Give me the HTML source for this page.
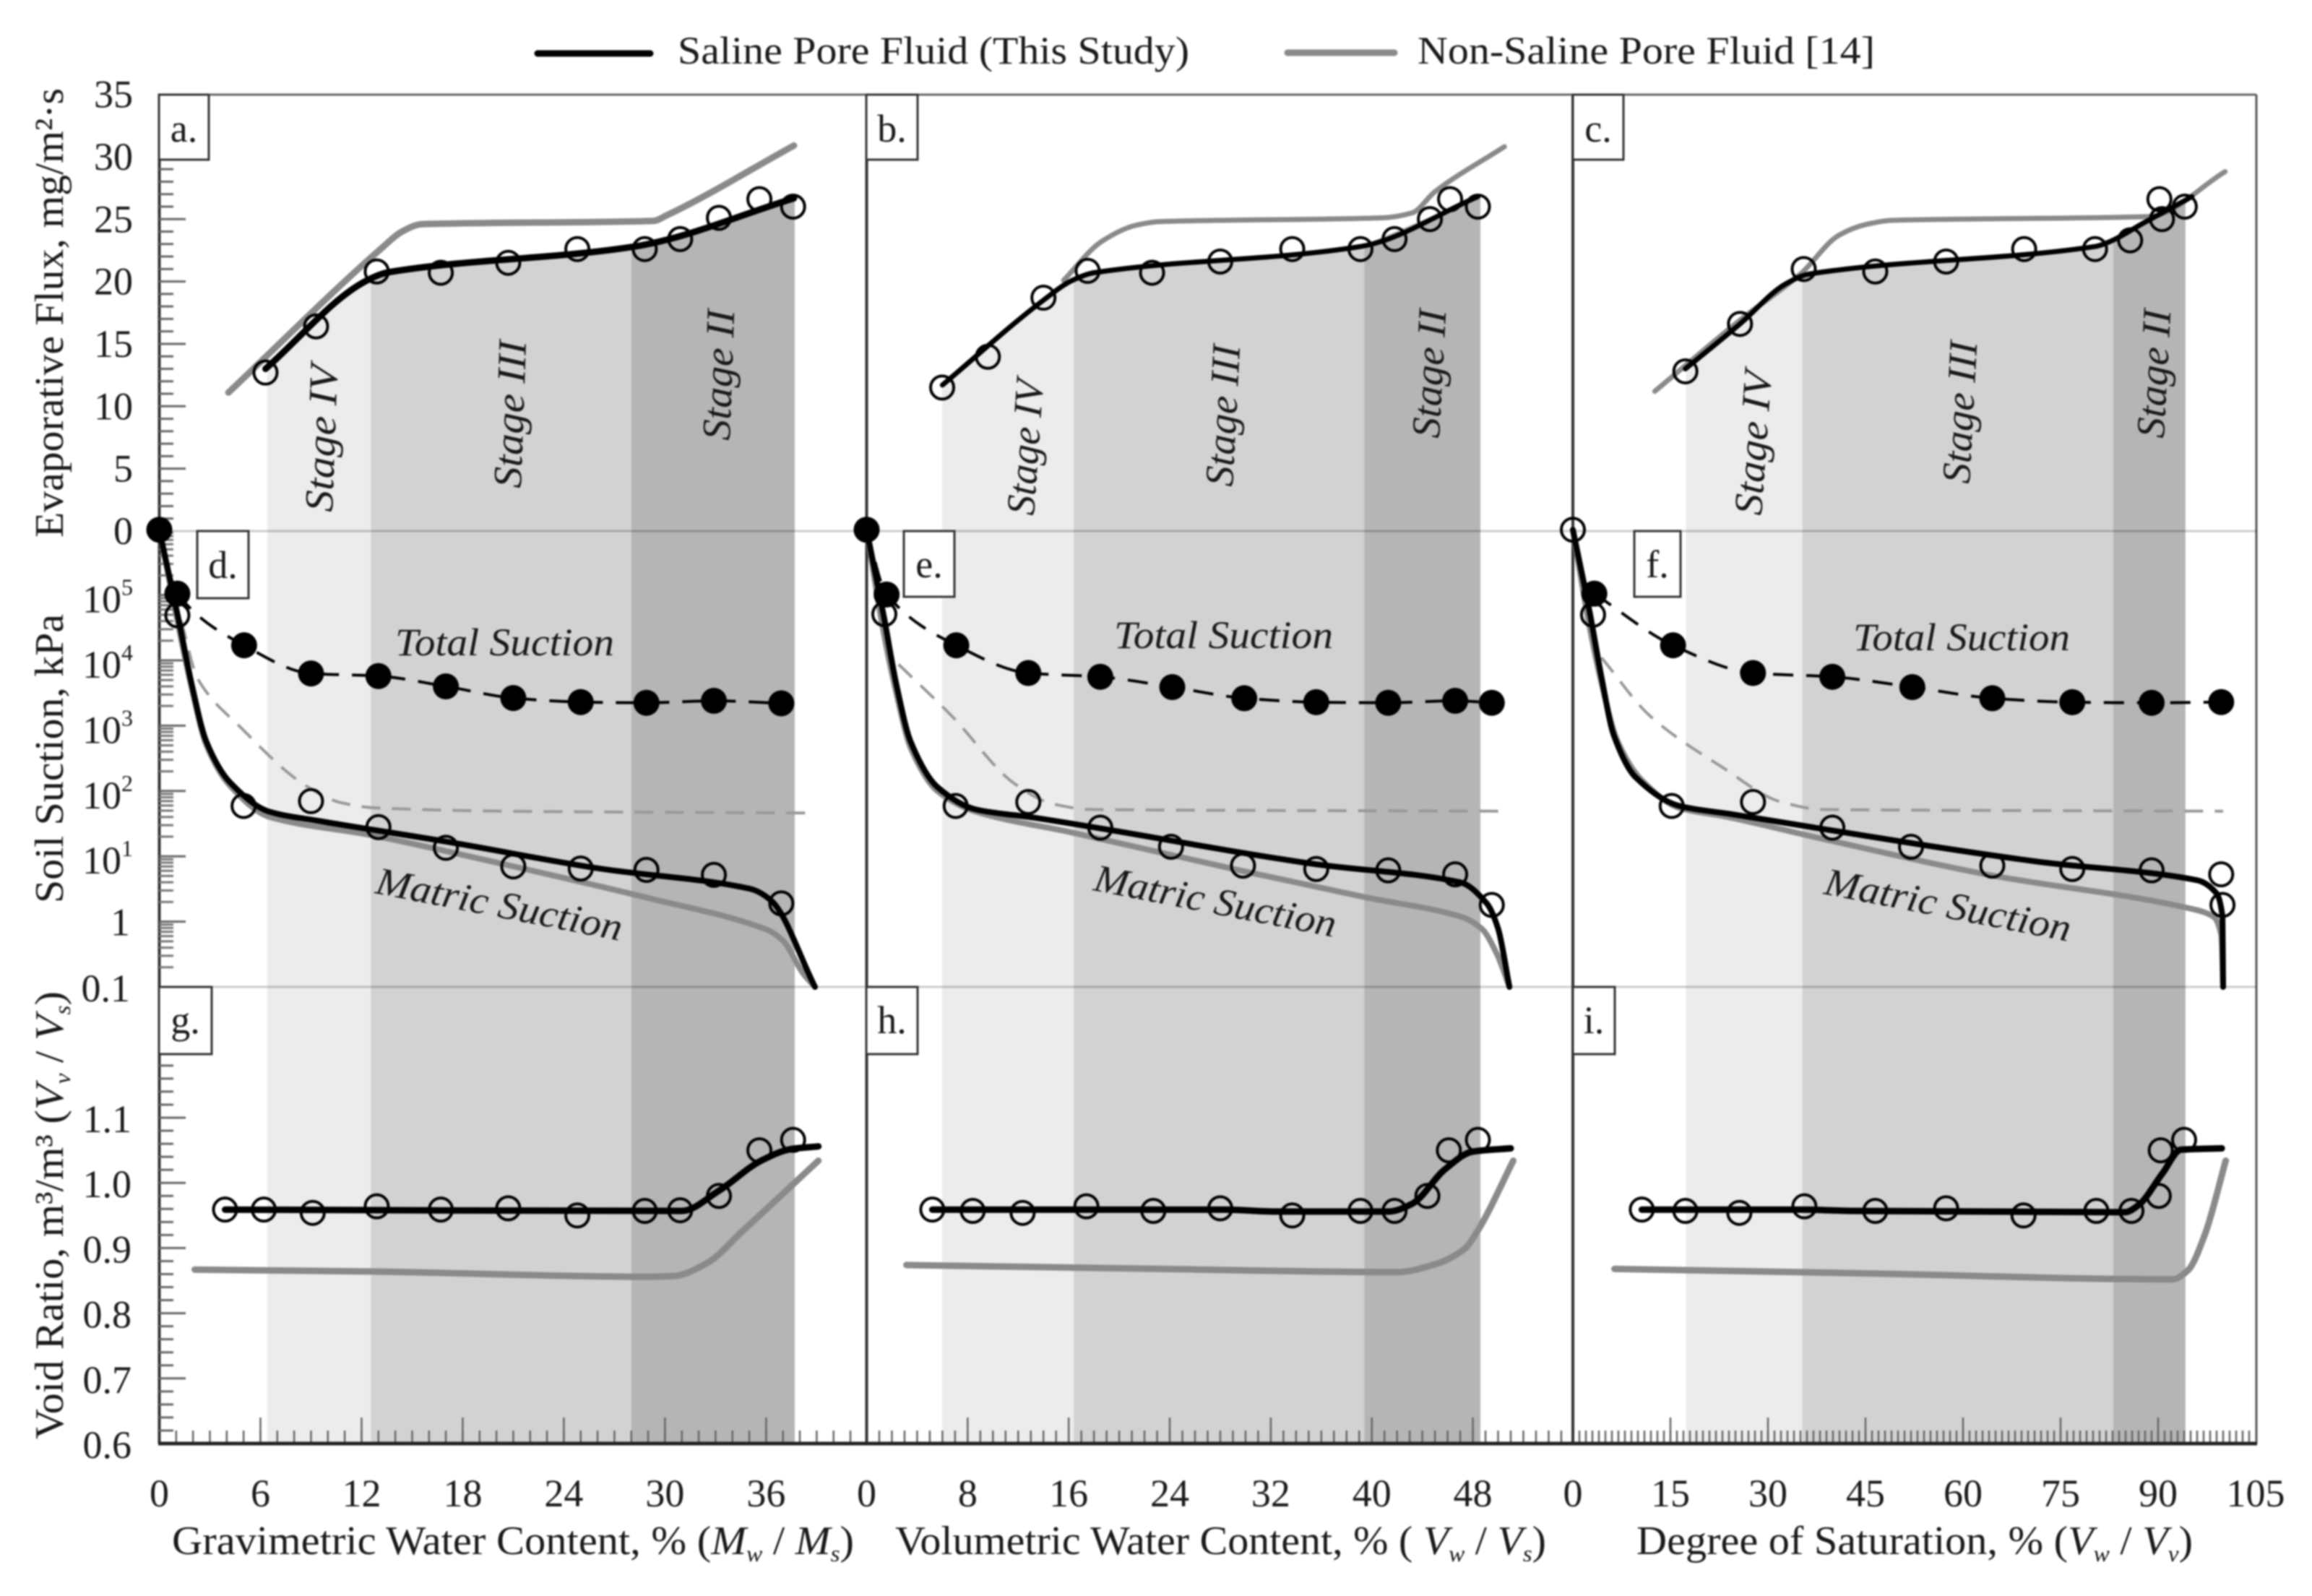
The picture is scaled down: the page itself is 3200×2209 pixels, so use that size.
<!DOCTYPE html>
<html lang="en">
<head>
<meta charset="utf-8">
<title>Evaporative flux, soil suction and void ratio</title>
<style>
html,body{margin:0;padding:0;background:#fff;width:3200px;height:2209px;overflow:hidden}
svg{display:block;filter:blur(1px)}
text{font-family:"Liberation Serif",serif;fill:#1a1a1a}
.tick{font-size:54px}
.ax{font-size:56px}
.it{font-style:italic}
.sub{font-size:32px;font-style:italic}
.stage{font-size:56px;font-style:italic}
.note{font-size:54px;font-style:italic}
</style>
</head>
<body>
<svg id="chart" xmlns="http://www.w3.org/2000/svg" width="3200" height="2209" viewBox="0 0 3200 2209">
  <rect x="0" y="0" width="3200" height="2209" fill="#fff"/>
  <g id="shades"></g>
  <g id="grid"></g>
  <g id="labels"></g>
  <g id="boxes"></g>
  <g id="annot">
    <text class="stage" transform="translate(460,709) rotate(-88)" textLength="204" lengthAdjust="spacingAndGlyphs">Stage IV</text>
    <text class="stage" transform="translate(721,676) rotate(-88)" textLength="204" lengthAdjust="spacingAndGlyphs">Stage III</text>
    <text class="stage" transform="translate(1010,610) rotate(-88)" textLength="181" lengthAdjust="spacingAndGlyphs">Stage II</text>
    <text class="stage" transform="translate(1431,714) rotate(-86)" textLength="188" lengthAdjust="spacingAndGlyphs">Stage IV</text>
    <text class="stage" transform="translate(1706,674) rotate(-87)" textLength="196" lengthAdjust="spacingAndGlyphs">Stage III</text>
    <text class="stage" transform="translate(1992,607) rotate(-87)" textLength="178" lengthAdjust="spacingAndGlyphs">Stage II</text>
    <text class="stage" transform="translate(2438,714) rotate(-86)" textLength="200" lengthAdjust="spacingAndGlyphs">Stage IV</text>
    <text class="stage" transform="translate(2726,670) rotate(-87)" textLength="197" lengthAdjust="spacingAndGlyphs">Stage III</text>
    <text class="stage" transform="translate(2995,607) rotate(-87)" textLength="178" lengthAdjust="spacingAndGlyphs">Stage II</text>
    <text class="note" x="547" y="907" textLength="303" lengthAdjust="spacingAndGlyphs">Total Suction</text>
    <text class="note" x="1542" y="897" textLength="303" lengthAdjust="spacingAndGlyphs">Total Suction</text>
    <text class="note" x="2565" y="900" textLength="300" lengthAdjust="spacingAndGlyphs">Total Suction</text>
    <text class="note" transform="translate(518,1236) rotate(11)" textLength="346" lengthAdjust="spacingAndGlyphs">Matric Suction</text>
    <text class="note" transform="translate(1512,1232) rotate(11)" textLength="340" lengthAdjust="spacingAndGlyphs">Matric Suction</text>
    <text class="note" transform="translate(2523,1237) rotate(11)" textLength="346" lengthAdjust="spacingAndGlyphs">Matric Suction</text>
  </g>
  <g id="marks"></g>
  <g>
    <line x1="744" y1="74" x2="900" y2="74" stroke="#000" stroke-width="9" stroke-linecap="round"/>
    <text x="938" y="88" font-size="54" textLength="708" lengthAdjust="spacingAndGlyphs">Saline Pore Fluid (This Study)</text>
    <line x1="1782" y1="73" x2="1930" y2="73" stroke="#8a8a8a" stroke-width="9" stroke-linecap="round"/>
    <text x="1962" y="88" font-size="54" textLength="633" lengthAdjust="spacingAndGlyphs">Non-Saline Pore Fluid [14]</text>
  </g>
  <g>
    <text class="ax" transform="translate(87,744) rotate(-90)" textLength="622" lengthAdjust="spacingAndGlyphs">Evaporative Flux, mg/m²·s</text>
    <text class="ax" transform="translate(87,1250) rotate(-90)" textLength="400" lengthAdjust="spacingAndGlyphs">Soil Suction, kPa</text>
    <text class="ax" transform="translate(87,1992) rotate(-90)" textLength="620" lengthAdjust="spacingAndGlyphs">Void Ratio, m³/m³ (<tspan class="it">V</tspan><tspan class="sub" dy="10">v</tspan><tspan dy="-10"> / </tspan><tspan class="it">V</tspan><tspan class="sub" dy="10">s</tspan><tspan dy="-10">)</tspan></text>
    <text class="ax" x="238" y="2151" textLength="944" lengthAdjust="spacingAndGlyphs">Gravimetric Water Content, % (<tspan class="it">M</tspan><tspan class="sub" dy="10">w</tspan><tspan dy="-10"> / </tspan><tspan class="it">M</tspan><tspan class="sub" dy="10">s</tspan><tspan dy="-10">)</tspan></text>
    <text class="ax" x="1239" y="2151" textLength="901" lengthAdjust="spacingAndGlyphs">Volumetric Water Content, % ( <tspan class="it">V</tspan><tspan class="sub" dy="10">w</tspan><tspan dy="-10"> / </tspan><tspan class="it">V</tspan><tspan class="sub" dy="10">s</tspan><tspan dy="-10">)</tspan></text>
    <text class="ax" x="2265" y="2151" textLength="770" lengthAdjust="spacingAndGlyphs">Degree of Saturation, % (<tspan class="it">V</tspan><tspan class="sub" dy="10">w</tspan><tspan dy="-10"> / </tspan><tspan class="it">V</tspan><tspan class="sub" dy="10">v</tspan><tspan dy="-10">)</tspan></text>
  </g>
</svg>
<script>
// ---------- tick labels ----------
const fluxTicks = [0, 5, 10, 15, 20, 25, 30, 35];
const voidTicks = [0.6, 0.7, 0.8, 0.9, 1.0, 1.1];
const suctionDecades = [0.1, 1, 10, 100, 1000, 10000, 100000];
const xTicksA = [0, 6, 12, 18, 24, 30, 36];
const xTicksB = [0, 8, 16, 24, 32, 40, 48];
const xTicksC = [0, 15, 30, 45, 60, 75, 90, 105];

// ---------- column A: gravimetric water content ----------
const stagesA = [6.4, 12.55, 28, 37.7];
const fluxPtXA = [6.3, 9.3, 12.9, 16.7, 20.7, 24.8, 28.8, 30.9, 33.2, 35.6, 37.6];
const fluxPtYA = [12.7, 16.4, 20.8, 20.7, 21.5, 22.6, 22.6, 23.4, 25.1, 26.6, 26.0];
const fluxLineXA = [6.3, 12.2, 13.65, 28.2, 37.65];
const fluxLineYA = [13.0, 20.0, 20.75, 22.8, 26.67];
const fluxRefXA = [4.1, 13.3, 14.4, 15.6, 29.3, 30.1, 37.65];
const fluxRefYA = [11.1, 22.8, 24.0, 24.6, 24.85, 25.3, 30.9];
const totalXA = [0, 1.07, 5.03, 9, 13, 17, 21, 25, 28.9, 32.9, 36.9];
const totalYA = [1000000, 105000, 17000, 6300, 5750, 4000, 2650, 2300, 2240, 2400, 2200];
const matricPtXA = [1.07, 5, 9, 13, 17, 21, 25, 28.9, 32.9, 36.9];
const matricPtYA = [49000, 59, 70, 28, 13.5, 7, 6.5, 6.2, 5.2, 1.9];
const matricLineXA = [0, 1.2, 1.9, 2.8, 4.2, 6.55, 9.4, 16.9, 26.1, 35, 36.3, 38.9];
const matricLineYA = [1000000, 36000, 4570, 562, 135, 48, 35, 17, 6.5, 3.2, 2.1, 0.1];
const matricRefXA = [0, 1.2, 1.9, 2.8, 4.2, 6.55, 12.6, 20.8, 29, 36, 37, 38.2, 38.9];
const matricRefYA = [1000000, 28000, 4000, 500, 120, 40, 21, 7.2, 2.3, 0.76, 0.51, 0.16, 0.1];
const totalRefXA = [1.3, 2.3, 4.8, 8.7, 10.8, 12.9, 20.8, 38.5];
const totalRefYA = [40000, 5100, 955, 120, 66, 55, 49, 46];
const voidPtXA = [3.9, 6.2, 9.1, 12.9, 16.7, 20.7, 24.8, 28.8, 30.9, 33.2, 35.6, 37.6];
const voidPtYA = [0.959, 0.959, 0.954, 0.964, 0.959, 0.961, 0.95, 0.957, 0.958, 0.98, 1.05, 1.066];
const voidLineXA = [3.9, 31, 33.2, 35.7, 37.5, 39.1];
const voidLineYA = [0.959, 0.957, 0.988, 1.034, 1.052, 1.056];
const voidRefXA = [2.1, 12.6, 28.9, 30.5, 32.5, 34.6, 39.1];
const voidRefYA = [0.867, 0.864, 0.856, 0.857, 0.877, 0.926, 1.034];

// ---------- column B: volumetric water content ----------
const stagesB = [5.98, 16.4, 39.4, 48.6];
const fluxPtXB = [5.98, 9.6, 14, 17.5, 22.6, 28, 33.7, 39.1, 41.8, 44.6, 46.2, 48.4];
const fluxPtYB = [11.5, 13.97, 18.7, 20.85, 20.7, 21.6, 22.6, 22.6, 23.4, 25, 26.6, 26];
const fluxLineXB = [6, 14, 16.3, 18, 39.1, 48.4];
const fluxLineYB = [11.7, 18.5, 20.1, 20.7, 22.8, 26.8];
const fluxRefXB = [15.6, 18.6, 21.3, 23.2, 40.8, 43.2, 45, 50.5];
const fluxRefYB = [20.1, 23.2, 24.5, 24.8, 25.1, 25.5, 27.2, 30.8];
const totalXB = [0, 1.58, 7.1, 12.8, 18.5, 24.2, 29.9, 35.6, 41.3, 46.6, 49.5];
const totalYB = [1000000, 102000, 17000, 6400, 5600, 3900, 2630, 2290, 2240, 2400, 2240];
const matricPtXB = [1.4, 7.05, 12.8, 18.5, 24.1, 29.8, 35.6, 41.3, 46.6, 49.5];
const matricPtYB = [51000, 59, 68, 27.5, 14, 7.2, 6.4, 6.1, 5.3, 1.8];
const matricLineXB = [0, 1.4, 2.34, 3.5, 5.6, 8.67, 13.3, 35.5, 47, 49.1, 50, 50.9];
const matricLineYB = [1000000, 43000, 4400, 560, 115, 52, 39, 7.6, 4, 1.9, 0.78, 0.1];
const matricRefXB = [0, 1.3, 2.3, 3.5, 5.6, 8.67, 16.3, 29.7, 39.3, 47, 48.7, 49.9, 50.9];
const matricRefYB = [1000000, 30000, 3500, 450, 100, 48, 23, 6, 2.4, 1.2, 0.78, 0.32, 0.1];
const totalRefXB = [2.53, 6.75, 11.7, 14.8, 17.9, 50.8];
const totalRefYB = [8700, 1400, 130, 63, 52, 49];
const voidPtXB = [5.2, 8.4, 12.35, 17.4, 22.7, 28, 33.7, 39.1, 41.8, 44.4, 46.1, 48.4];
const voidPtYB = [0.959, 0.957, 0.954, 0.964, 0.957, 0.961, 0.95, 0.957, 0.957, 0.98, 1.05, 1.066];
const voidLineXB = [5.2, 28.4, 32.3, 41.3, 43.2, 45.8, 48, 51];
const voidLineYB = [0.959, 0.959, 0.956, 0.956, 0.968, 1.021, 1.048, 1.053];
const voidRefXB = [3.15, 23.3, 42, 45, 47.3, 48.4, 51.2];
const voidRefYB = [0.874, 0.868, 0.863, 0.875, 0.898, 0.927, 1.034];

// ---------- column C: degree of saturation ----------
const stagesC = [17.4, 35.3, 83.1, 94.2];
const fluxPtXC = [17.3, 25.7, 35.5, 46.5, 57.4, 69.4, 80.3, 85.7, 90.6, 90.2, 94.1];
const fluxPtYC = [12.8, 16.6, 21, 20.8, 21.6, 22.6, 22.6, 23.3, 25, 26.6, 26];
const fluxLineXC = [17.3, 25.7, 32.7, 36.4, 80.3, 82.6, 87.8, 95.2];
const fluxLineYC = [13, 16.6, 19.8, 20.6, 22.8, 23.2, 24.7, 26.8];
const fluxRefXC = [12.6, 25.7, 35, 40.9, 45.3, 49.1, 88.6, 100.3];
const fluxRefYC = [11.2, 16.9, 20.6, 23.7, 24.6, 24.9, 25.2, 28.8];
const totalXC = [3.3, 15.4, 27.7, 39.9, 52.2, 64.5, 76.8, 89, 99.7];
const totalYC = [105000, 17000, 6400, 5600, 3900, 2630, 2290, 2240, 2300];
const matricPtXC = [0, 3.1, 15.2, 27.7, 39.9, 52, 64.5, 76.8, 89, 99.7, 99.9];
const matricPtYC = [1000000, 50000, 59, 68, 27.5, 14, 7.2, 6.4, 6.1, 5.3, 1.8];
const matricLineXC = [0, 2.6, 4.4, 6.3, 9.7, 16.4, 23.8, 71.4, 96, 99, 99.9, 100];
const matricLineYC = [1000000, 54000, 5500, 710, 160, 59, 45, 8.3, 4.3, 2.7, 1.2, 0.1];
const matricRefXC = [0, 2.4, 4.4, 6.8, 10.5, 16.4, 23.8, 37.9, 64, 96, 98.6, 99.7, 100];
const matricRefYC = [1000000, 40000, 4500, 600, 150, 55, 40, 19, 5.2, 1.5, 1.17, 0.62, 0.1];
const totalRefXC = [4.4, 11.9, 23, 32, 38.7, 100];
const totalRefYC = [11000, 1400, 230, 68, 52, 49];
const voidPtXC = [10.6, 17.3, 25.6, 35.6, 46.5, 57.4, 69.3, 80.5, 85.9, 90.1, 90.4, 94];
const voidPtYC = [0.959, 0.957, 0.954, 0.964, 0.957, 0.961, 0.95, 0.957, 0.957, 0.98, 1.05, 1.066];
const voidLineXC = [10.6, 35.6, 42.8, 84.9, 87, 90.7, 93.5, 99.8];
const voidLineYC = [0.959, 0.959, 0.957, 0.955, 0.966, 1.015, 1.051, 1.053];
const voidRefXC = [6.4, 45.7, 92.2, 94.6, 97.2, 100.4];
const voidRefYC = [0.868, 0.861, 0.852, 0.866, 0.921, 1.034];

// ---------- axis functions ----------
const fluxY = v => 735 - v * 17.27;
const suctionY = v => 1366 - (Math.log10(v) + 1) * 90.4;
const voidY = v => 1998 - (v - 0.6) * 902;
const NS = 'http://www.w3.org/2000/svg';
function mk(parent, tag, attrs) {
  const e = document.createElementNS(NS, tag);
  for (const k in attrs) e.setAttribute(k, attrs[k]);
  document.getElementById(parent).appendChild(e);
  return e;
}
// Monotone cubic path through screen points
function curve(pts) {
  const n = pts.length;
  const d = [], m = [];
  for (let i = 0; i < n - 1; i++) d.push((pts[i + 1][1] - pts[i][1]) / (pts[i + 1][0] - pts[i][0]));
  m.push(d[0]);
  for (let i = 1; i < n - 1; i++) {
    m.push(d[i - 1] * d[i] <= 0 ? 0 : 2 * d[i - 1] * d[i] / (d[i - 1] + d[i]));
  }
  m.push(d[n - 2]);
  let s = 'M' + pts[0][0].toFixed(1) + ' ' + pts[0][1].toFixed(1);
  for (let i = 0; i < n - 1; i++) {
    const h = (pts[i + 1][0] - pts[i][0]) / 3;
    s += 'C' + (pts[i][0] + h).toFixed(1) + ' ' + (pts[i][1] + m[i] * h).toFixed(1) + ' ' +
      (pts[i + 1][0] - h).toFixed(1) + ' ' + (pts[i + 1][1] - m[i + 1] * h).toFixed(1) + ' ' +
      pts[i + 1][0].toFixed(1) + ' ' + pts[i + 1][1].toFixed(1);
  }
  return s;
}
function interp(xs, ys, x) {
  if (x <= xs[0]) return ys[0];
  for (let i = 1; i < xs.length; i++) {
    if (x <= xs[i]) return ys[i - 1] + (ys[i] - ys[i - 1]) * (x - xs[i - 1]) / (xs[i] - xs[i - 1]);
  }
  return ys[ys.length - 1];
}
function zip(xs, ys, fx, fy) { return xs.map((x, i) => [fx(x), fy(ys[i])]); }

function drawLine(name, xs, ys, fx, fy, stroke, width, dash) {
  const a = { d: curve(zip(xs, ys, fx, fy)), fill: 'none', stroke: stroke, 'stroke-width': width, 'stroke-linejoin': 'round' };
  if (dash) a['stroke-dasharray'] = dash;
  else a['stroke-linecap'] = 'round';
  const el = mk('marks', 'path', a);
  
  
}
function drawPoints(name, xs, ys, fx, fy, filled) {
  xs.forEach((x, i) => {
    const el = mk('marks', 'circle', {
      cx: fx(x), cy: fy(ys[i]), r: filled ? 18 : 16,
      fill: filled ? '#000' : 'none', stroke: filled ? 'none' : '#000', 'stroke-width': 4
    });
    
    
  });
}
function tickLabel(name, x, y, anchor, txt, sup) {
  const el = mk('labels', 'text', { x: x, y: y, 'text-anchor': anchor, class: 'tick' });
  
  
  el.textContent = txt;
  if (sup) {
    const t = document.createElementNS(NS, 'tspan');
    t.setAttribute('dy', '-24');
    t.setAttribute('font-size', '32');
    t.textContent = sup;
    el.appendChild(t);
  }
}
function gridLine(name, x1, y1, x2, y2, stroke, w) {
  const el = mk('grid', 'line', { x1: x1, y1: y1, x2: x2, y2: y2, stroke: stroke, 'stroke-width': w });
  
  
}

const PX0 = [220.5, 1199.5, 2177];
const PXU = [23.33, 17.48, 9];
const PXMAX = [41, 55, 104];
const FLUX_WIDTH = [9, 7, 7];
const FLUX_REF_WIDTH = [9, 7, 7];
const STAGE_COLORS = ['#ececec', '#d2d2d2', '#b5b5b5'];
const STAGE_NAMES = ['stage-iv-shade', 'stage-iii-shade', 'stage-ii-shade'];

const columns = [
  { key: 'a', stages: stagesA, xTicks: xTicksA,
    fluxPt: [fluxPtXA, fluxPtYA], fluxLine: [fluxLineXA, fluxLineYA], fluxRef: [fluxRefXA, fluxRefYA],
    total: [totalXA, totalYA], matricPt: [matricPtXA, matricPtYA], matricLine: [matricLineXA, matricLineYA],
    matricRef: [matricRefXA, matricRefYA], totalRef: [totalRefXA, totalRefYA],
    voidPt: [voidPtXA, voidPtYA], voidLine: [voidLineXA, voidLineYA], voidRef: [voidRefXA, voidRefYA] },
  { key: 'b', stages: stagesB, xTicks: xTicksB,
    fluxPt: [fluxPtXB, fluxPtYB], fluxLine: [fluxLineXB, fluxLineYB], fluxRef: [fluxRefXB, fluxRefYB],
    total: [totalXB, totalYB], matricPt: [matricPtXB, matricPtYB], matricLine: [matricLineXB, matricLineYB],
    matricRef: [matricRefXB, matricRefYB], totalRef: [totalRefXB, totalRefYB],
    voidPt: [voidPtXB, voidPtYB], voidLine: [voidLineXB, voidLineYB], voidRef: [voidRefXB, voidRefYB] },
  { key: 'c', stages: stagesC, xTicks: xTicksC,
    fluxPt: [fluxPtXC, fluxPtYC], fluxLine: [fluxLineXC, fluxLineYC], fluxRef: [fluxRefXC, fluxRefYC],
    total: [totalXC, totalYC], matricPt: [matricPtXC, matricPtYC], matricLine: [matricLineXC, matricLineYC],
    matricRef: [matricRefXC, matricRefYC], totalRef: [totalRefXC, totalRefYC],
    voidPt: [voidPtXC, voidPtYC], voidLine: [voidLineXC, voidLineYC], voidRef: [voidRefXC, voidRefYC] }
];

columns.forEach((col, ci) => {
  const fx = v => PX0[ci] + v * PXU[ci];
  // stage shading, clipped above by the saline flux curve
  for (let s = 0; s < 3; s++) {
    const x0 = col.stages[s], x1 = col.stages[s + 1];
    let pts = [[fx(x0), fluxY(interp(col.fluxLine[0], col.fluxLine[1], x0))]];
    col.fluxLine[0].forEach((lx, i) => {
      if (lx > x0 && lx < x1) pts.push([fx(lx), fluxY(col.fluxLine[1][i])]);
    });
    pts.push([fx(x1), fluxY(interp(col.fluxLine[0], col.fluxLine[1], x1))]);
    pts.push([fx(x1), 1998], [fx(x0), 1998]);
    const el = mk('shades', 'polygon', { points: pts.map(p => p.join(',')).join(' '), fill: STAGE_COLORS[s] });
    
    
  }
  // x minor and major ticks
  for (let v = 1; v <= PXMAX[ci]; v++) {
    gridLine('x-minor-tick', fx(v), 1998, fx(v), 1980, '#666', 2.5);
  }
  col.xTicks.forEach(v => {
    if (v > 0 && fx(v) < 3120) gridLine('x-major-tick', fx(v), 1998, fx(v), 1962, '#666', 2.5);
    tickLabel('x-tick-label', fx(v), 2085, 'middle', String(v));
  });
  gridLine('column-left-axis', PX0[ci], 131, PX0[ci], 1998, '#333', 4);

  // series
  drawLine('flux-non-saline-line', col.fluxRef[0], col.fluxRef[1], fx, fluxY, '#8a8a8a', FLUX_REF_WIDTH[ci]);
  drawLine('flux-saline-line', col.fluxLine[0], col.fluxLine[1], fx, fluxY, '#000', FLUX_WIDTH[ci]);
  drawPoints('flux-saline-point', col.fluxPt[0], col.fluxPt[1], fx, fluxY, false);

  drawLine('total-suction-non-saline-dashed', col.totalRef[0], col.totalRef[1], fx, suctionY, '#999', 4, '26 16');
  drawLine('matric-suction-non-saline-line', col.matricRef[0], col.matricRef[1], fx, suctionY, '#8a8a8a', 8);
  drawPoints('matric-suction-point', col.matricPt[0], col.matricPt[1], fx, suctionY, false);
  drawLine('matric-suction-saline-line', col.matricLine[0], col.matricLine[1], fx, suctionY, '#000', 8);
  drawLine('total-suction-saline-dashed', col.total[0], col.total[1], fx, suctionY, '#000', 4, '28 18');
  drawPoints('total-suction-point', col.total[0], col.total[1], fx, suctionY, true);

  drawLine('void-non-saline-line', col.voidRef[0], col.voidRef[1], fx, voidY, '#8a8a8a', 9);
  drawLine('void-saline-line', col.voidLine[0], col.voidLine[1], fx, voidY, '#000', 9);
  drawPoints('void-point', col.voidPt[0], col.voidPt[1], fx, voidY, false);
});

// frame and horizontal dividers
gridLine('panel-top-border', 220, 131, 3123, 131, '#666', 3);
gridLine('panel-right-border', 3123, 131, 3123, 1998, '#555', 3);
gridLine('panel-bottom-axis', 219, 1998, 3124, 1998, '#222', 5);
gridLine('flux-zero-line', 220, 735, 3123, 735, 'rgba(0,0,0,.2)', 3);
gridLine('suction-bottom-line', 220, 1366, 3123, 1366, 'rgba(0,0,0,.2)', 3);

// y axis ticks, flux
for (let v = 1; v < 35; v++) {
  const major = v % 5 === 0;
  gridLine(major ? 'flux-major-tick' : 'flux-minor-tick', 220, fluxY(v), major ? 257 : 240, fluxY(v), '#666', 3);
}
fluxTicks.forEach(v => tickLabel('flux-tick-label', 184, fluxY(v) + 18, 'end', String(v)));
// y axis ticks, suction
suctionDecades.forEach(d => {
  gridLine('suction-major-tick', 220, suctionY(d), 257, suctionY(d), '#666', 3);
  for (let k = 2; k < 10; k++) {
    gridLine('suction-minor-tick', 220, suctionY(d * k), 240, suctionY(d * k), '#777', 3);
  }
});
suctionDecades.forEach(d => {
  if (d === 0.1) tickLabel('suction-tick-label', 180, suctionY(d) + 20, 'end', '0.1');
  else if (d === 1) tickLabel('suction-tick-label', 180, suctionY(d) + 19, 'end', '1');
  else tickLabel('suction-tick-label', 184, suctionY(d) + 24, 'end', '10', String(Math.round(Math.log10(d))));
});
// y axis ticks, void ratio
for (let i = 31; i < 65; i++) {
  const v = i * 0.02;
  const major = i % 5 === 0;
  gridLine(major ? 'void-major-tick' : 'void-minor-tick', 220, voidY(v), major ? 257 : 240, voidY(v), '#666', 3);
}
voidTicks.forEach(v => tickLabel('void-tick-label', 182, voidY(v) + 20, 'end', v.toFixed(1)));

// panel letter boxes
const boxLetters = ['a.', 'b.', 'c.', 'd.', 'e.', 'f.', 'g.', 'h.', 'i.'];
const boxLeft = [220, 1199, 2177, 273, 1251, 2262, 220, 1199, 2177];
const boxRight = [289, 1270, 2247, 344, 1321, 2326, 293, 1270, 2235];
const boxTop = [131, 131, 131, 735, 735, 735, 1366, 1366, 1366];
const boxBottom = [221, 221, 221, 828, 826, 826, 1459, 1459, 1459];
const boxBase = [196, 196, 196, 800, 799, 799, 1430, 1430, 1430];
boxLetters.forEach((t, i) => {
  const r = mk('boxes', 'rect', { x: boxLeft[i], y: boxTop[i], width: boxRight[i] - boxLeft[i], height: boxBottom[i] - boxTop[i], fill: '#fff', stroke: '#333', 'stroke-width': 3 });
  
  
  const el = mk('boxes', 'text', { x: (boxLeft[i] + boxRight[i]) / 2, y: boxBase[i], 'text-anchor': 'middle', 'font-size': 54 });
  
  
  el.textContent = t;
});
</script>
</body>
</html>
